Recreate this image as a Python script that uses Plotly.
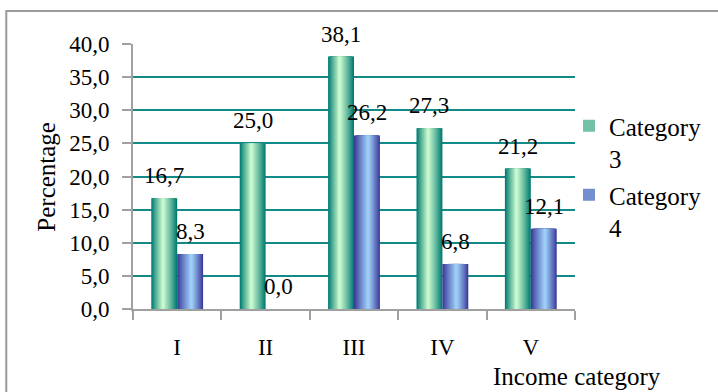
import plotly.graph_objects as go

categories = ["I", "II", "III", "IV", "V"]
cat3_values = [16.7, 25.0, 38.1, 27.3, 21.2]
cat4_values = [8.3, 0.0, 26.2, 6.8, 12.1]
series_names = ["Category<br>3", "Category<br>4"]
y_ticks = [0, 5, 10, 15, 20, 25, 30, 35, 40]

FONT = "Liberation Serif"
FS = 23
FS_T = 25
W, H = 718, 392
L, R, T, B = 133, 142, 44, 83

BAR_W = 0.293
N_LAYERS = 14


def mix(c1, c2, t):
    return "rgb(%d,%d,%d)" % tuple(round(a + (b - a) * t) for a, b in zip(c1, c2))


series = [
    dict(name=series_names[0], values=cat3_values, offset=-BAR_W,
         dark=(0, 122, 112), light=(200, 248, 206), peak=0.45, legend="legend"),
    dict(name=series_names[1], values=cat4_values, offset=0.0,
         dark=(58, 58, 152), light=(158, 206, 248), peak=0.55, legend="legend2"),
]

fig = go.Figure()
for s in series:
    for i in range(N_LAYERS):
        f = i / N_LAYERS
        left = s["peak"] * f
        right = 1 - (1 - s["peak"]) * f
        t = (i / (N_LAYERS - 1)) ** 0.9
        col = mix(s["dark"], s["light"], t)
        fig.add_trace(go.Bar(
            x=categories, y=s["values"],
            width=BAR_W * (right - left),
            offset=s["offset"] + BAR_W * left,
            marker=dict(color=col, line=dict(width=0)),
            name=s["name"],
            legendgroup=s["name"],
            legend=s["legend"],
            showlegend=(i == N_LAYERS // 2),
            hoverinfo="skip" if i else None,
        ))

# value labels
for s in series:
    for c, v in zip(categories, s["values"]):
        fig.add_annotation(
            x=c, y=v, xref="x", yref="y",
            text=("%.1f" % v).replace(".", ","),
            showarrow=False, yanchor="bottom", xanchor="center",
            xshift=(s["offset"] + BAR_W / 2) * (W - L - R) / 5,
            yshift=8,
            font=dict(family=FONT, size=FS, color="black"),
        )

plot_w = W - L - R
plot_h = H - T - B
# axis titles as annotations
fig.add_annotation(
    x=(46 - L) / plot_w, y=0.5, xref="paper", yref="paper",
    xanchor="center", yanchor="middle",
    text="Percentage", textangle=-90, showarrow=False,
    font=dict(family=FONT, size=FS_T, color="black"),
)
fig.add_annotation(
    x=(578 - L) / plot_w, y=(H - B - 376) / plot_h, xref="paper", yref="paper",
    xanchor="center", yanchor="middle",
    text="Income category", showarrow=False,
    font=dict(family=FONT, size=FS_T, color="black"),
)

# outer frame
fig.add_shape(
    type="rect", xref="paper", yref="paper",
    x0=(6 - L) / plot_w, x1=(730 - L) / plot_w,
    y0=(H - B - 400) / plot_h, y1=(H - B - 11) / plot_h,
    line=dict(color="#9a9a9a", width=2), fillcolor="rgba(0,0,0,0)",
    layer="below",
)

legend_common = dict(
    x=(569 - L) / plot_w, xanchor="left", yanchor="top", valign="top",
    font=dict(family=FONT, size=FS_T, color="black"),
    bgcolor="rgba(0,0,0,0)",
)

fig.update_layout(
    width=W, height=H,
    margin=dict(l=L, r=R, t=T, b=B),
    paper_bgcolor="white", plot_bgcolor="white",
    barmode="overlay",
    separators=",.",
    font=dict(family=FONT, size=FS, color="black"),
    legend=dict(y=(H - B - 103) / plot_h, **legend_common),
    legend2=dict(y=(H - B - 172) / plot_h, **legend_common),
    xaxis=dict(
        type="category",
        range=[-0.5, 4.5],
        showline=True, linecolor="#a0a0a0", linewidth=2,
        ticks="outside", tickson="boundaries", ticklen=9,
        tickcolor="#a0a0a0", tickwidth=2,
        ticklabelstandoff=16,
        showgrid=False,
        tickfont=dict(family=FONT, size=FS, color="black"),
    ),
    yaxis=dict(
        range=[0, 40],
        tickvals=y_ticks,
        tickformat=".1f",
        showline=True, linecolor="#a0a0a0", linewidth=2,
        ticks="outside", ticklen=9, tickcolor="#a0a0a0", tickwidth=2,
        ticklabelstandoff=8,
        showgrid=True, gridcolor="#148a88", gridwidth=2,
        zeroline=False,
        tickfont=dict(family=FONT, size=FS, color="black"),
    ),
)

fig.write_html("out.html")
